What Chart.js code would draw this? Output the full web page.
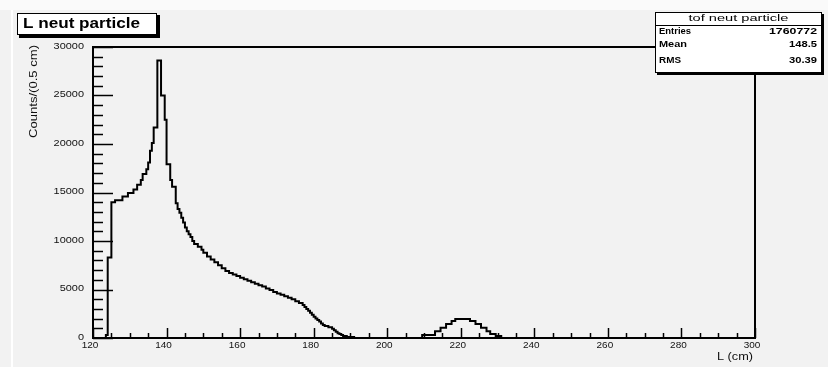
<!DOCTYPE html>
<html>
<head>
<meta charset="utf-8">
<script src="https://cdn.jsdelivr.net/npm/chart.js@4"></script>
<style>
  html, body { margin: 0; padding: 0; background: #f2f2f2; }
  #wrap { width: 828px; height: 367px; }
</style>
</head>
<body>
<div id="wrap"><canvas id="chart" width="828" height="367"></canvas></div>
<script>
// histogram steps: left edge of each run (cm) and its bin content
const binEdges = [120, 123.5, 124, 125, 126, 128, 129.5, 131, 132, 133, 133.5, 134.5, 135, 135.5, 136, 136.5,
  137.5, 138.5, 139.5, 140, 141, 141.5, 142.5, 143, 143.5, 144, 144.5, 145, 145.5, 146, 146.5, 147, 147.5,
  148.5, 149.5, 150, 151, 152, 153, 154, 155, 156, 157, 158, 159, 160, 161, 162, 163, 164, 165, 166,
  167, 168, 169, 170, 171, 172, 173, 174, 175, 176, 177, 177.5, 178, 178.5, 179, 179.5, 180, 180.5,
  181, 181.5, 182, 182.5, 183, 184, 185, 185.5, 186, 186.5, 187, 187.5, 188, 189, 191,
  209.5, 213, 214.5, 216, 217.5, 218.5, 222.5, 224, 225.5, 227, 228, 229.5, 231, 300];
const binCounts = [0, 300, 8300, 14000, 14200, 14600, 14950, 15300, 15800, 16300, 16900, 17400, 18100, 19300, 20100, 21700,
  28600, 25000, 22500, 17900, 16300, 15600, 13900, 13300, 12900, 12400, 11900, 11400, 11000, 10700, 10400, 10000, 9700,
  9400, 9100, 8800, 8400, 8100, 7800, 7500, 7200, 6900, 6700, 6550, 6400, 6200, 6050, 5900, 5750, 5600, 5450, 5300,
  5100, 4950, 4750, 4600, 4450, 4300, 4150, 4000, 3800, 3600, 3400, 3200, 3000, 2800, 2600, 2400, 2200, 2000,
  1850, 1700, 1500, 1350, 1250, 1100, 950, 800, 650, 500, 400, 300, 200, 100, 0,
  300, 700, 1050, 1450, 1750, 1950, 1750, 1450, 1050, 700, 400, 200, 0, 0];

const xTicks = [120, 140, 160, 180, 200, 220, 240, 260, 280, 300];
const yTicks = [0, 5000, 10000, 15000, 20000, 25000, 30000];

const histTitle = 'L neut particle';
const statName = 'tof neut particle';
const statLabels = ['Entries', 'Mean', 'RMS'];
const statValues = ['1760772', '148.5', '30.39'];

const FONT = '"Liberation Sans", Arial, sans-serif';

// draw text stretched horizontally by factor k (ROOT text comes out wider)
function wideText(ctx, text, x, y, k, align) {
  ctx.save();
  ctx.translate(x, y);
  ctx.scale(k, 1);
  ctx.textAlign = align;
  ctx.fillText(text, 0, 0);
  ctx.restore();
}
// same, but stretched to a given width
function fitText(ctx, text, x, y, width, align) {
  wideText(ctx, text, x, y, width / ctx.measureText(text).width, align);
}

const rootFrame = {
  id: 'rootFrame',
  beforeDraw(chart) {
    const ctx = chart.ctx;
    ctx.save();
    ctx.fillStyle = '#f2f2f2';
    ctx.fillRect(0, 0, chart.width, chart.height);
    ctx.fillStyle = '#fafafa';
    ctx.fillRect(0, 0, chart.width, 10);
    ctx.fillStyle = '#ffffff';
    ctx.fillRect(11, 10, 2, chart.height - 10);
    ctx.restore();
  },
  afterDraw(chart) {
    const ctx = chart.ctx;
    const a = chart.chartArea;
    const xs = chart.scales.x, ys = chart.scales.y;
    ctx.save();
    ctx.strokeStyle = '#000';
    ctx.fillStyle = '#000';

    // frame
    ctx.lineWidth = 2;
    ctx.strokeRect(a.left, a.top, a.right - a.left, a.bottom - a.top);

    // x ticks (inward)
    ctx.lineWidth = 1.5;
    for (let v = xs.min; v <= xs.max; v += 5) {
      const px = Math.round(xs.getPixelForValue(v)) + 0.5;
      const len = (v % 20 === 0) ? 10 : 5;
      ctx.beginPath();
      ctx.moveTo(px, a.bottom);
      ctx.lineTo(px, a.bottom - len);
      ctx.stroke();
    }
    // y ticks (inward)
    for (let v = ys.min; v <= ys.max; v += 1000) {
      const py = Math.round(ys.getPixelForValue(v)) + 0.5;
      const len = (v % 5000 === 0) ? 20 : 10;
      ctx.beginPath();
      ctx.moveTo(a.left, py);
      ctx.lineTo(a.left + len, py);
      ctx.stroke();
    }

    // tick labels
    ctx.fillStyle = '#111';
    ctx.font = '9.5px ' + FONT;
    ctx.textBaseline = 'middle';
    xTicks.forEach(v => {
      wideText(ctx, String(v), xs.getPixelForValue(v) - 3, a.bottom + 7, 1.05, 'center');
    });
    yTicks.forEach(v => {
      wideText(ctx, String(v), a.left - 9, ys.getPixelForValue(v) - 1, 1.15, 'right');
    });

    // axis titles
    ctx.font = '10px ' + FONT;
    fitText(ctx, 'L (cm)', a.right - 2, a.bottom + 19, 36, 'right');
    ctx.save();
    ctx.translate(34, a.top - 2);
    ctx.rotate(-Math.PI / 2);
    fitText(ctx, 'Counts/(0.5 cm)', 0, 0, 93, 'right');
    ctx.restore();

    // title box
    ctx.fillStyle = '#000';
    ctx.fillRect(19, 15, 141, 23);
    ctx.fillStyle = '#ffffff';
    ctx.fillRect(17, 13, 140, 22);
    ctx.lineWidth = 1;
    ctx.strokeRect(17.5, 13.5, 139, 21);
    ctx.fillStyle = '#000';
    ctx.font = 'bold 15px ' + FONT;
    fitText(ctx, histTitle, 23, 23.5, 117, 'left');

    // stats box
    const bx = 655, by = 12, bw = 167, bh = 61;
    ctx.fillStyle = '#000';
    ctx.fillRect(bx + 2, by + 2, bw, bh);
    ctx.fillStyle = '#ffffff';
    ctx.fillRect(bx, by, bw, bh);
    ctx.strokeRect(bx + 0.5, by + 0.5, bw - 1, bh - 1);
    ctx.beginPath();
    ctx.moveTo(bx, by + 13.5);
    ctx.lineTo(bx + bw, by + 13.5);
    ctx.stroke();
    ctx.fillStyle = '#000';
    ctx.font = '8.5px ' + FONT;
    fitText(ctx, statName, bx + bw / 2, by + 7, 100, 'center');
    ctx.font = 'bold 9.5px ' + FONT;
    const rowY = [by + 19, by + 32, by + 48];
    const labelW = [32, 28, 22];
    const valueW = [48, 28, 28];
    statLabels.forEach((s, i) => {
      fitText(ctx, s, bx + 4, rowY[i], labelW[i], 'left');
      fitText(ctx, statValues[i], bx + bw - 5, rowY[i], valueW[i], 'right');
    });
    ctx.restore();
  }
};

new Chart(document.getElementById('chart'), {
  type: 'line',
  data: {
    datasets: [{
      data: binEdges.map((x, i) => ({ x: x, y: binCounts[i] })),
      stepped: true,
      borderColor: '#000',
      borderWidth: 2,
      pointRadius: 0,
      fill: false
    }]
  },
  options: {
    responsive: false,
    animation: false,
    layout: { padding: { left: 93, right: 73, top: 47, bottom: 29 } },
    plugins: { legend: { display: false }, tooltip: { enabled: false } },
    scales: {
      x: { type: 'linear', min: 120, max: 300, display: false },
      y: { type: 'linear', min: 0, max: 30000, display: false }
    }
  },
  plugins: [rootFrame]
});
</script>
</body>
</html>
